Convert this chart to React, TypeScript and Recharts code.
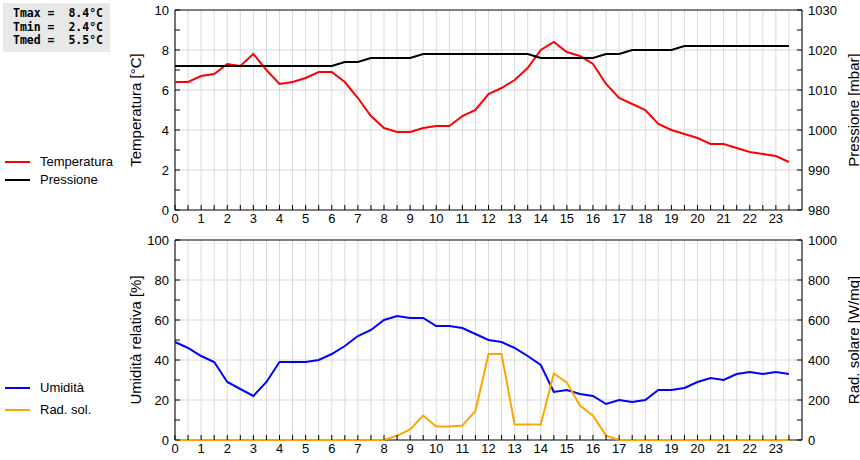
import React from "react";
import { LineChart, Line, XAxis, YAxis, CartesianGrid, ReferenceArea, Legend } from "recharts";

// half-hour samples
const hours = [
  0, 0.5, 1, 1.5, 2, 2.5, 3, 3.5, 4, 4.5, 5, 5.5, 6, 6.5, 7, 7.5, 8, 8.5, 9, 9.5, 10, 10.5, 11, 11.5,
  12, 12.5, 13, 13.5, 14, 14.5, 15, 15.5, 16, 16.5, 17, 17.5, 18, 18.5, 19, 19.5, 20, 20.5, 21, 21.5,
  22, 22.5, 23, 23.5,
];
const temperatura = [
  6.4, 6.4, 6.7, 6.8, 7.3, 7.2, 7.8, 7.0, 6.3, 6.4, 6.6, 6.9, 6.9, 6.4, 5.6, 4.7, 4.1, 3.9, 3.9, 4.1,
  4.2, 4.2, 4.7, 5.0, 5.8, 6.1, 6.5, 7.1, 8.0, 8.4, 7.9, 7.7, 7.3, 6.3, 5.6, 5.3, 5.0, 4.3, 4.0, 3.8,
  3.6, 3.3, 3.3, 3.1, 2.9, 2.8, 2.7, 2.4,
];
const pressione = [
  1016, 1016, 1016, 1016, 1016, 1016, 1016, 1016, 1016, 1016, 1016, 1016, 1016, 1017, 1017, 1018,
  1018, 1018, 1018, 1019, 1019, 1019, 1019, 1019, 1019, 1019, 1019, 1019, 1018, 1018, 1018, 1018,
  1018, 1019, 1019, 1020, 1020, 1020, 1020, 1021, 1021, 1021, 1021, 1021, 1021, 1021, 1021, 1021,
];
const umidita = [
  49, 46, 42, 39, 29, 25.5, 22, 29, 39, 39, 39, 40, 43, 47, 52, 55, 60, 62, 61, 61, 57, 57, 56, 53,
  50, 49, 46, 42, 37.5, 24, 25, 23, 22, 18, 20, 19, 20, 25, 25, 26, 29, 31, 30, 33, 34, 33, 34, 33,
];
const radSolare = [
  0, 0, 0, 0, 0, 0, 0, 0, 0, 0, 0, 0, 0, 0, 0, 0, 0, 22, 53, 122, 67, 67, 72, 145, 430, 430, 78, 78,
  78, 333, 287, 172, 122, 22, 0, 0, 0, 0, 0, 0, 0, 0, 0, 0, 0, 0, 0, 0,
];

const tempTicks = [0, 1, 2, 3, 4, 5, 6, 7, 8, 9, 10];
const pressTicks = [980, 985, 990, 995, 1000, 1005, 1010, 1015, 1020, 1025, 1030];
const humTicks = [0, 10, 20, 30, 40, 50, 60, 70, 80, 90, 100];
const radTicks = [0, 100, 200, 300, 400, 500, 600, 700, 800, 900, 1000];
const tempGrid = [2, 4, 6, 8];
const humGrid = [20, 40, 60, 80];

const stats = ["Tmax =  8.4°C", "Tmin =  2.4°C", "Tmed =  5.5°C"];
const topLegend = ["Temperatura", "Pressione"];
const bottomLegend = ["Umidità", "Rad. sol."];

const topData = hours.map((h, i) => ({ h, temp: temperatura[i], press: pressione[i] }));
const bottomData = hours.map((h, i) => ({ h, hum: umidita[i], rad: radSolare[i] }));

const FONT = "'Liberation Sans', Arial, sans-serif";
const tickText = { fontFamily: FONT, fontSize: 13, fill: "#000" };
const X_MARGIN = 3;
const Y_MARGIN = 6;

function XTick(props: any) {
  const { x, y, payload } = props;
  const v = payload.value;
  const base = y - X_MARGIN;
  return (
    <g>
      <line x1={x} y1={base} x2={x} y2={base - 5} stroke="#000" />
      {Number.isInteger(v) && (
        <text x={x} y={y} dy="0.8em" textAnchor="middle" {...tickText}>{v}</text>
      )}
    </g>
  );
}

function makeYTick(side: "left" | "right", every: number) {
  return (props: any) => {
    const { x, y, payload } = props;
    const v = payload.value;
    const edge = side === "left" ? x + Y_MARGIN : x - Y_MARGIN;
    const dir = side === "left" ? 1 : -1;
    return (
      <g>
        <line x1={edge} y1={y} x2={edge + dir * 5} y2={y} stroke="#000" />
        {v % every === 0 && (
          <text x={x} y={y} dy="0.36em" textAnchor={side === "left" ? "end" : "start"} {...tickText}>{v}</text>
        )}
      </g>
    );
  };
}

function axisTitle(text: string, side: "left" | "right") {
  return (p: any) => {
    const vb = p.viewBox || {};
    const cx = side === "left" ? vb.x + vb.width - 40 : vb.x + 51;
    const cy = vb.y + vb.height / 2;
    return (
      <text
        x={cx}
        y={cy}
        transform={`rotate(-90 ${cx} ${cy})`}
        textAnchor="middle"
        dominantBaseline="central"
        fontFamily={FONT}
        fontSize={15}
        fill="#000"
      >
        {text}
      </text>
    );
  };
}

function SideLegend(props: any) {
  const { payload, gap, order } = props;
  // keep the series order, not the alphabetical one
  const items = [...(payload || [])].sort(
    (a: any, b: any) => order.indexOf(a.value) - order.indexOf(b.value)
  );
  return (
    <div style={{ position: "relative", width: 140 }}>
      {items.map((p: any, i: number) => (
        <div key={i} style={{ position: "absolute", top: i * gap, left: 0, height: 16, width: 140 }}>
          <div style={{ position: "absolute", left: 5, top: 7, width: 25, height: 2, background: p.color }} />
          <div style={{ position: "absolute", left: 40, top: 0, fontFamily: FONT, fontSize: 13, lineHeight: "16px", color: "#000" }}>
            {p.value}
          </div>
        </div>
      ))}
    </div>
  );
}

const W = 860;
const H = 230;

export default function App() {
  return (
    <div style={{ position: "absolute", left: 0, top: 0, width: 860, height: 460, background: "#fff" }}>
      <div
        style={{
          position: "absolute", left: 3, top: 3, width: 107, height: 49, background: "#e8e8e8",
          zIndex: 5, boxSizing: "border-box", padding: "4px 0 0 10px",
        }}
      >
        {stats.map((s) => (
          <div key={s} style={{ fontFamily: "'DejaVu Sans Mono', monospace", fontWeight: 700, fontSize: 11.5, lineHeight: "13.5px", whiteSpace: "pre" }}>
            {s}
          </div>
        ))}
      </div>

      <div style={{ position: "absolute", left: 0, top: 0 }}>
        <LineChart width={W} height={H} data={topData} margin={{ top: 10, right: 0, bottom: 0, left: 0 }}>
          <CartesianGrid yAxisId="left" stroke="#d9d9d9" horizontalValues={tempGrid} />
          <XAxis dataKey="h" type="number" domain={[0, 24]} ticks={hours} interval={0} height={20}
            axisLine={false} tickLine={false} tickSize={0} tickMargin={X_MARGIN} tick={<XTick />} />
          <YAxis yAxisId="left" domain={[0, 10]} ticks={tempTicks} interval={0} width={175}
            axisLine={false} tickLine={false} tickSize={0} tickMargin={Y_MARGIN} tick={makeYTick("left", 2)}
            label={{ content: axisTitle("Temperatura [°C]", "left") }} />
          <YAxis yAxisId="right" orientation="right" domain={[980, 1030]} ticks={pressTicks} interval={0} width={58}
            axisLine={false} tickLine={false} tickSize={0} tickMargin={Y_MARGIN} tick={makeYTick("right", 10)}
            label={{ content: axisTitle("Pressione [mbar]", "right") }} />
          <Legend layout="vertical" align="center" verticalAlign="middle"
            wrapperStyle={{ left: 0, top: 154, width: 140, height: 40 }}
            content={(p: any) => <SideLegend {...p} gap={18} order={topLegend} />} />
          <Line yAxisId="left" dataKey="temp" name="Temperatura" stroke="#ff0000" strokeWidth={2} dot={false} type="linear" isAnimationActive={false} />
          <Line yAxisId="right" dataKey="press" name="Pressione" stroke="#000000" strokeWidth={2} dot={false} type="linear" isAnimationActive={false} />
          <ReferenceArea yAxisId="left" x1={0} x2={24} y1={0} y2={10} fill="none" stroke="#000" strokeWidth={1} />
        </LineChart>
      </div>

      <div style={{ position: "absolute", left: 0, top: 230 }}>
        <LineChart width={W} height={H} data={bottomData} margin={{ top: 10, right: 0, bottom: 0, left: 0 }}>
          <CartesianGrid yAxisId="left" stroke="#d9d9d9" horizontalValues={humGrid} />
          <XAxis dataKey="h" type="number" domain={[0, 24]} ticks={hours} interval={0} height={20}
            axisLine={false} tickLine={false} tickSize={0} tickMargin={X_MARGIN} tick={<XTick />} />
          <YAxis yAxisId="left" domain={[0, 100]} ticks={humTicks} interval={0} width={175}
            axisLine={false} tickLine={false} tickSize={0} tickMargin={Y_MARGIN} tick={makeYTick("left", 20)}
            label={{ content: axisTitle("Umidità relativa [%]", "left") }} />
          <YAxis yAxisId="right" orientation="right" domain={[0, 1000]} ticks={radTicks} interval={0} width={58}
            axisLine={false} tickLine={false} tickSize={0} tickMargin={Y_MARGIN} tick={makeYTick("right", 200)}
            label={{ content: axisTitle("Rad. solare [W/mq]", "right") }} />
          <Legend layout="vertical" align="center" verticalAlign="middle"
            wrapperStyle={{ left: 0, top: 150, width: 140, height: 44 }}
            content={(p: any) => <SideLegend {...p} gap={22} order={bottomLegend} />} />
          <Line yAxisId="left" dataKey="hum" name="Umidità" stroke="#0000ff" strokeWidth={2} dot={false} type="linear" isAnimationActive={false} />
          <Line yAxisId="right" dataKey="rad" name="Rad. sol." stroke="#ffa500" strokeWidth={2} dot={false} type="linear" isAnimationActive={false} />
          <ReferenceArea yAxisId="left" x1={0} x2={24} y1={0} y2={100} fill="none" stroke="#000" strokeWidth={1} />
        </LineChart>
      </div>
    </div>
  );
}
